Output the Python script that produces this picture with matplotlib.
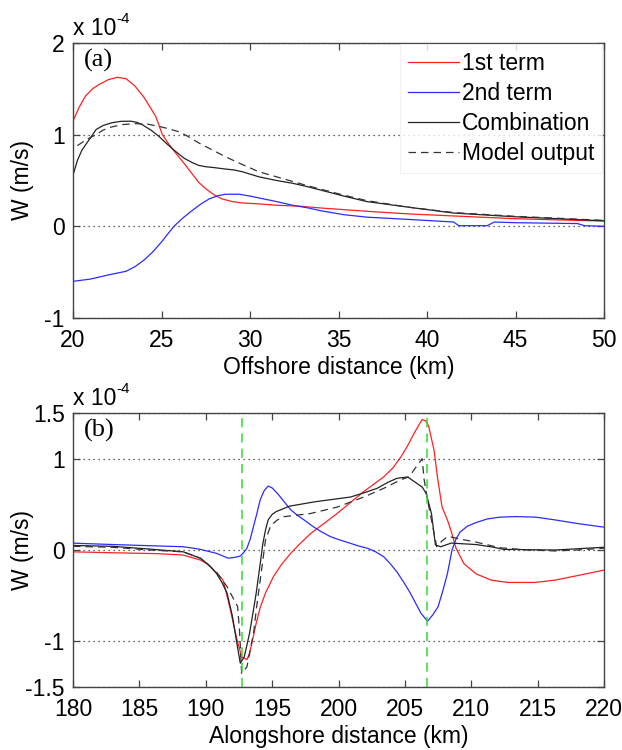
import matplotlib.pyplot as plt
import numpy as np

plt.rcParams['font.family'] = ['Liberation Sans', 'DejaVu Sans']
plt.rcParams['axes.unicode_minus'] = False

# ---- panel (a): offshore section, W in units of 1e-4 m/s ----
a_red_x = [20, 20.35, 20.7, 21.1, 21.5, 22.0, 22.5, 23.0, 23.5, 24.0, 24.67, 25.05, 25.4,
           25.8, 26.3, 26.74, 27.1, 27.5, 28.0, 28.4, 29.0, 29.57, 30.5, 31.5, 32.8,
           34.0, 36.6, 39.0, 41.5, 44.9, 47.0, 50]
a_red_y = [1.15, 1.30, 1.42, 1.50, 1.55, 1.60, 1.625, 1.61, 1.53, 1.41, 1.20, 1.0, 0.90,
           0.80, 0.68, 0.57, 0.48, 0.41, 0.34, 0.30, 0.27, 0.255, 0.245, 0.23, 0.22,
           0.20, 0.164, 0.135, 0.113, 0.084, 0.072, 0.058]

a_blue_x = [20, 21, 22, 23, 23.5, 24, 24.5, 25, 25.7, 26.2, 26.74, 27.2, 27.7, 28.2, 28.6,
            29.4, 30.0, 30.5, 31.5, 32.4, 33.3, 34.0, 35.3, 36.6, 38.9, 41.5, 41.8,
            43.4, 43.8, 44.9, 48.5, 48.9, 50]
a_blue_y = [-0.60, -0.575, -0.53, -0.49, -0.44, -0.37, -0.28, -0.17, 0.0, 0.09, 0.173,
            0.24, 0.30, 0.335, 0.35, 0.35, 0.33, 0.31, 0.27, 0.23, 0.20, 0.17, 0.127,
            0.10, 0.076, 0.047, 0.007, 0.007, 0.047, 0.04, 0.03, 0.007, 0.0]

a_comb_x = [20, 20.25, 20.5, 21.0, 21.3, 21.7, 22.2, 22.7, 23.26, 23.6, 23.9, 24.4, 24.86,
            25.3, 25.8, 26.3, 26.74, 27.1, 27.5, 28.0, 28.6, 29.1, 29.57, 30.5, 31.5,
            32.4, 33.3, 35.3, 36.6, 38.9, 41.5, 44.9, 50]
a_comb_y = [0.56, 0.72, 0.83, 0.97, 1.055, 1.10, 1.13, 1.145, 1.147, 1.135, 1.11, 1.05,
            0.98, 0.90, 0.816, 0.74, 0.695, 0.665, 0.65, 0.64, 0.625, 0.615, 0.595, 0.54,
            0.50, 0.47, 0.43, 0.33, 0.27, 0.21, 0.145, 0.105, 0.06]

a_model_x = [20.25, 20.7, 21.3, 21.7, 22.2, 22.8, 23.5, 24.2, 24.86, 25.4, 26.0, 26.5,
             27.1, 27.8, 28.6, 29.5, 30.5, 31.5, 32.4, 33.3, 35.3, 36.6, 38.9, 41.5,
             44.9, 50]
a_model_y = [0.88, 0.94, 1.0, 1.05, 1.085, 1.11, 1.12, 1.115, 1.09, 1.065, 1.03, 0.98,
             0.91, 0.84, 0.76, 0.68, 0.595, 0.54, 0.49, 0.44, 0.34, 0.28, 0.21, 0.15,
             0.11, 0.065]

# ---- panel (b): alongshore section ----
b_red_x = [180, 183, 186.4, 188.3, 189.6, 190.2, 190.6, 191.0, 191.3, 191.6, 191.8, 192.3,
           192.7, 193.1, 193.3, 193.5, 193.8, 194.1, 194.5, 195.1, 195.7, 196.4, 197.1,
           197.9, 198.9, 199.9, 200.9, 201.9, 203.4, 204.1, 204.7, 205.2, 205.7, 206.3,
           206.6, 206.8, 207.2, 207.45, 207.8, 208.2, 208.5, 208.85, 209.45, 210.35,
           211.5, 212.75, 214.8, 216.3, 218, 220]
b_red_y = [-0.02, -0.03, -0.04, -0.055, -0.11, -0.16, -0.22, -0.28, -0.33, -0.50, -0.62,
           -0.95, -1.17, -1.20, -1.13, -1.0, -0.80, -0.63, -0.47, -0.29, -0.16, -0.036,
           0.07, 0.18, 0.29, 0.40, 0.52, 0.64, 0.80, 0.90, 1.02, 1.14, 1.28, 1.43,
           1.41, 1.35, 1.09, 0.80, 0.47, 0.33, 0.20, 0.02, -0.15, -0.26,
           -0.33, -0.355, -0.355, -0.33, -0.28, -0.22]

b_blue_x = [180, 183, 185.8, 188.3, 189.5, 190.8, 191.7, 192.2, 192.6, 192.9, 193.1,
            193.35, 193.6, 193.85, 194.1, 194.4, 194.7, 195.0, 195.4, 195.9, 196.4,
            196.9, 197.4, 198.1, 198.7, 199.4, 200.1, 200.9, 201.5, 202.2, 202.8, 203.4,
            203.9, 204.4, 204.9, 205.4, 205.8, 206.2, 206.7, 207.1, 207.5, 207.85, 208.2,
            208.55, 208.85, 209.15, 209.7, 210.35, 211.2, 212.15, 213.35, 214.85, 216.3,
            218, 220]
b_blue_y = [0.075, 0.06, 0.047, 0.036, 0.01, -0.036, -0.09, -0.08, -0.066, -0.02, 0.02,
            0.12, 0.26, 0.40, 0.55, 0.65, 0.70, 0.68, 0.62, 0.53, 0.44, 0.38, 0.33,
            0.255, 0.20, 0.146, 0.11, 0.073, 0.045, 0.018, -0.02, -0.073, -0.15, -0.24,
            -0.35, -0.47, -0.58, -0.69, -0.78, -0.71, -0.62, -0.45, -0.26, 0.0, 0.12,
            0.196, 0.26, 0.30, 0.34, 0.36, 0.366, 0.36, 0.33, 0.29, 0.25]

b_comb_x = [180, 183, 185.8, 188.3, 189.6, 190.2, 190.8, 191.2, 191.6, 192.0, 192.3, 192.6,
            192.9, 193.3, 193.6, 193.8, 194.1, 194.3, 194.5, 194.7, 195.0, 195.3, 196.3,
            198.3, 200.9, 202.0, 202.9, 203.7, 204.4, 205.2, 205.7, 206.3, 206.6, 207.0,
            207.3, 207.7, 208.5, 209.15, 210.35, 211.5, 212.45, 216.3, 220]
b_comb_y = [0.05, 0.04, 0.01, -0.02, -0.09, -0.16, -0.255, -0.35, -0.47, -0.72, -0.985,
            -1.24, -1.17, -0.91, -0.65, -0.47, -0.15, 0.07, 0.22, 0.33, 0.39, 0.42, 0.48,
            0.53, 0.58, 0.63, 0.675, 0.74, 0.785, 0.80, 0.75, 0.69, 0.62, 0.40,
            0.055, 0.036, 0.076, 0.07, 0.06, 0.035, 0.007, 0.0, 0.03]

b_model_x = [180, 183, 185.8, 188.3, 189.6, 190.8, 191.6, 192.0, 192.4, 192.55, 192.7,
             193.1, 193.6, 193.85, 194.1, 194.5, 194.9, 195.4, 195.9, 197.9, 199.9,
             201.9, 203.4, 204.7, 205.3, 205.9, 206.3, 206.45, 206.7, 207.1, 207.4,
             207.8, 208.25, 209.15, 210.35, 212.15, 214.25, 216.3, 218, 220]
b_model_y = [0.04, 0.03, 0.0, -0.02, -0.09, -0.24, -0.40, -0.51, -0.62, -0.90, -1.35,
             -1.28, -0.91, -0.60, -0.33, 0.11, 0.27, 0.33, 0.365, 0.40, 0.47,
             0.58, 0.675, 0.77, 0.80, 0.92, 1.0, 0.77, 0.55, 0.255, 0.036,
             0.10, 0.15, 0.12, 0.087, 0.025, 0.0, -0.01, 0.0, 0.02]

front_x = [192.75, 206.7]   # green dashed markers in (b)

series_names = ['1st term', '2nd term', 'Combination', 'Model output']
a_xticks = [20, 25, 30, 35, 40, 45, 50]
a_yticks = [-1, 0, 1, 2]
b_xticks = [180, 185, 190, 195, 200, 205, 210, 215, 220]
b_yticks = [-1.5, -1, 0, 1, 1.5]

FS = 16.5

fig = plt.figure(figsize=(6.22, 7.5), dpi=100)
ax1 = fig.add_axes([0.1174, 0.576, 0.8537, 0.3667])
ax2 = fig.add_axes([0.1174, 0.084, 0.8537, 0.3653])

styles = [dict(color='#ff2020', lw=0.9, ls='-'),
          dict(color='#2b2bff', lw=0.9, ls='-'),
          dict(color='#222222', lw=0.9, ls='-'),
          dict(color='#333333', lw=0.9, ls=(0, (6, 4)))]


def style_axes(ax, xticks, yticks, xlab):
    ax.set_xticks(xticks)
    ax.set_yticks(yticks)
    ax.set_xticklabels([str(t) for t in xticks])
    ax.set_yticklabels([('%g' % t) for t in yticks])
    ax.set_xlim(xticks[0], xticks[-1])
    ax.set_ylim(yticks[0], yticks[-1])
    ax.tick_params(direction='in', top=True, right=True, length=5, width=0.9,
                   color='#444444', labelsize=FS)
    ax.tick_params(axis='x', pad=8)
    ax.tick_params(axis='y', pad=6)
    for s in ax.spines.values():
        s.set_color('#444444')
        s.set_linewidth(1.0)
    ax.yaxis.grid(True, linestyle=(0, (1, 3)), color='#333333', linewidth=0.9)
    ax.set_axisbelow(True)
    ax.set_xlabel(xlab, fontsize=FS, labelpad=3)
    ax.set_ylabel('W (m/s)', fontsize=FS)
    ax.yaxis.set_label_coords(-0.073, 0.5)
    t = ax.text(0.0, 1.01, 'x 10', transform=ax.transAxes, ha='left', va='bottom',
                fontsize=FS)
    ax.annotate('-4', xy=(1.0, 0.62), xycoords=t, ha='left', va='bottom',
                fontsize=11)


# panel (a)
for (x, y), st, name in zip([(a_red_x, a_red_y), (a_blue_x, a_blue_y),
                             (a_comb_x, a_comb_y), (a_model_x, a_model_y)],
                            styles, series_names):
    ax1.plot(x, y, label=name, **st)
style_axes(ax1, a_xticks, a_yticks, 'Offshore distance (km)')
ax1.text(0.02, 0.98, '(a)', transform=ax1.transAxes, ha='left', va='top',
         fontsize=19, family='Liberation Serif')
leg = ax1.legend(loc='upper right', bbox_to_anchor=(0.997, 0.995), borderaxespad=0,
                 fontsize=FS, frameon=True, fancybox=False, handlelength=2.2,
                 handletextpad=0.15, labelspacing=0.3, borderpad=0.35)
leg.get_frame().set_edgecolor('#eeeeee')
leg.get_frame().set_linewidth(0.8)

# panel (b)
for (x, y), st in zip([(b_red_x, b_red_y), (b_blue_x, b_blue_y),
                       (b_comb_x, b_comb_y), (b_model_x, b_model_y)], styles):
    ax2.plot(x, y, **st)
for fx in front_x:
    ax2.axvline(fx, color='#33dd33', lw=1.1, ls=(0, (6, 4)))
style_axes(ax2, b_xticks, b_yticks, 'Alongshore distance (km)')
ax2.text(0.02, 0.98, '(b)', transform=ax2.transAxes, ha='left', va='top',
         fontsize=19, family='Liberation Serif')

fig.savefig('out.png', dpi=100)
